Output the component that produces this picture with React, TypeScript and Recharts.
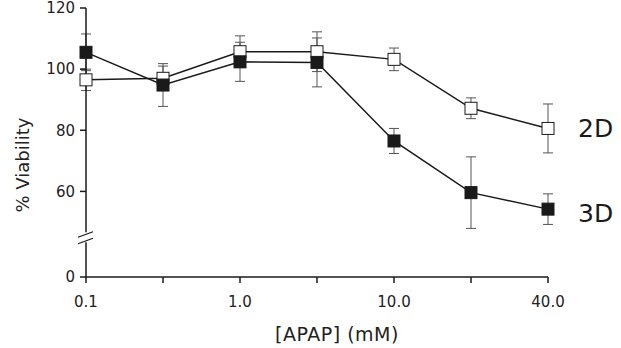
import { ErrorBar, Line, LineChart, ReferenceDot, XAxis, YAxis } from "recharts";

const doses = ["0.1", "0.3", "1.0", "3.0", "10.0", "20.0", "40.0"];
const labeledDoses = ["0.1", "1.0", "10.0", "40.0"];

const viability2D = [96.5, 97, 105.7, 105.7, 103.2, 87.2, 80.6];
const err2D = [3.5, 4, 5.2, 6.5, 3.7, 3.4, 8];

const viability3D = [105.5, 94.8, 102.4, 102.2, 76.5, 59.6, 54.2];
const err3D = [6, 7, 6.4, 8, 4.1, 11.7, 5];

// axis is broken: the bottom of the domain is shown as "0"
const yTicks = [32, 60, 80, 100, 120];
const breakAt = 45;

const FONT = '"DejaVu Sans", Verdana, sans-serif';
const INK = "#1a1a1a";

const data = doses.map((dose, i) => ({
  dose,
  v2D: viability2D[i],
  e2D: err2D[i],
  v3D: viability3D[i],
  e3D: err3D[i],
}));

function squareDot(fill: string) {
  return (props: any) => {
    const { cx, cy, index } = props;
    if (cx == null || cy == null) return <g key={index} />;
    return (
      <rect
        key={index}
        x={cx - 6}
        y={cy - 6}
        width={12}
        height={12}
        fill={fill}
        stroke={INK}
        strokeWidth={1}
      />
    );
  };
}

function endLabel(text: string, dy: number) {
  return (props: any) => {
    const { x, y, index } = props;
    if (index !== doses.length - 1) return null;
    return (
      <text
        key={text}
        x={x + 30}
        y={y + dy}
        fontSize={25}
        fontFamily={FONT}
        fill={INK}
        dominantBaseline="central"
      >
        {text}
      </text>
    );
  };
}

function AxisBreak(props: any) {
  const { cx, cy } = props;
  if (cx == null || cy == null) return <g />;
  return (
    <g>
      <rect x={cx - 3} y={cy - 5} width={6} height={10} fill="#fff" />
      <line x1={cx - 8} y1={cy} x2={cx + 7} y2={cy - 5.5} stroke={INK} strokeWidth={1.3} />
      <line x1={cx - 8} y1={cy + 6.5} x2={cx + 7} y2={cy + 1} stroke={INK} strokeWidth={1.3} />
    </g>
  );
}

export default function App() {
  return (
    <div style={{ position: "absolute", left: 0, top: 0, background: "#fff" }}>
      <LineChart
        width={621}
        height={348}
        data={data}
        margin={{ top: 8, right: 73, left: 0, bottom: 0 }}
        style={{ fontFamily: FONT }}
      >
        <XAxis
          dataKey="dose"
          height={71}
          interval={0}
          tickSize={6}
          tickMargin={13}
          tickFormatter={(v: string) => (labeledDoses.includes(v) ? v : "")}
          tick={{ fontSize: 15, fill: "#222", fontFamily: FONT }}
          axisLine={{ stroke: INK, strokeWidth: 1.5 }}
          tickLine={{ stroke: INK, strokeWidth: 1.5 }}
          label={{
            value: "[APAP] (mM)",
            position: "insideBottom",
            offset: 7,
            dx: 20,
            fontSize: 19,
            fill: "#222",
            fontFamily: FONT,
            letterSpacing: 0.5,
          }}
        />
        <YAxis
          width={86}
          type="number"
          domain={[32, 120]}
          ticks={yTicks}
          interval={0}
          tickSize={6}
          tickMargin={5}
          tickFormatter={(v: number) => (v === 32 ? "0" : String(v))}
          tick={{ fontSize: 15, fill: "#222", fontFamily: FONT }}
          axisLine={{ stroke: INK, strokeWidth: 1.5 }}
          tickLine={{ stroke: INK, strokeWidth: 1.5 }}
          label={() => (
            <text
              x={22}
              y={165}
              transform="rotate(-90, 22, 165)"
              textAnchor="middle"
              dominantBaseline="central"
              fontSize={18}
              fontFamily={FONT}
              fill="#222"
            >
              % Viability
            </text>
          )}
        />
        <Line
          dataKey="v2D"
          stroke={INK}
          strokeWidth={1.5}
          isAnimationActive={false}
          dot={squareDot("#fff")}
          activeDot={false}
          label={endLabel("2D", 0)}
        >
          <ErrorBar dataKey="e2D" direction="y" width={5} stroke="#555" strokeWidth={1} />
        </Line>
        <Line
          dataKey="v3D"
          stroke={INK}
          strokeWidth={1.5}
          isAnimationActive={false}
          dot={squareDot(INK)}
          activeDot={false}
          label={endLabel("3D", 4)}
        >
          <ErrorBar dataKey="e3D" direction="y" width={5} stroke="#555" strokeWidth={1} />
        </Line>
        <ReferenceDot x="0.1" y={breakAt} r={0} shape={AxisBreak} ifOverflow="visible" />
      </LineChart>
    </div>
  );
}
